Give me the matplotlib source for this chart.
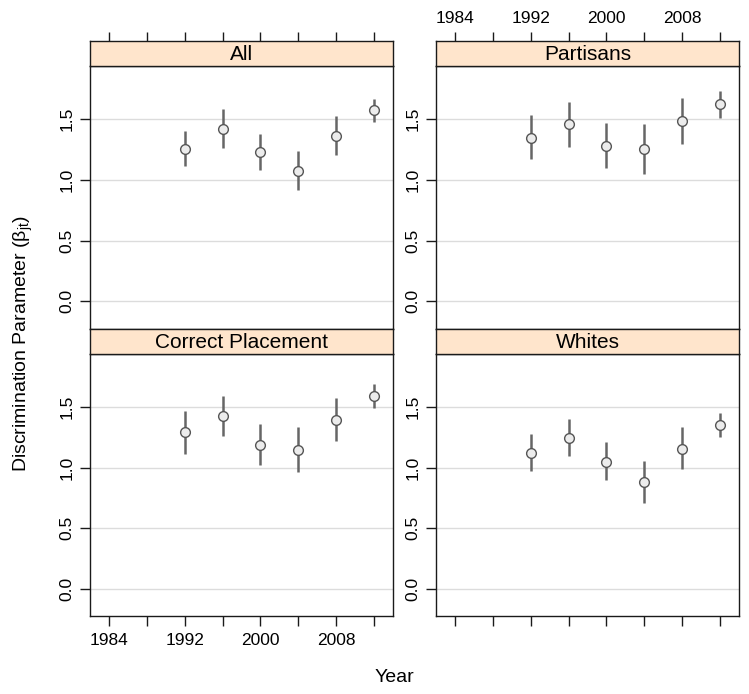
import matplotlib
matplotlib.use("Agg")
import matplotlib.pyplot as plt

plt.rcParams['font.family'] = ['Liberation Sans', 'DejaVu Sans']
plt.rcParams['mathtext.fontset'] = 'custom'
plt.rcParams['mathtext.rm'] = 'Liberation Sans'
plt.rcParams['mathtext.it'] = 'Liberation Sans:italic'

years = [1992, 1996, 2000, 2004, 2008, 2012]
x_ticks = [1984, 1988, 1992, 1996, 2000, 2004, 2008, 2012]
x_ticklabels = ['1984', '', '1992', '', '2000', '', '2008', '']
y_ticks = [0.0, 0.5, 1.0, 1.5]

panels = ['All', 'Partisans', 'Correct Placement', 'Whites']

all_est = [1.258, 1.420, 1.227, 1.073, 1.362, 1.572]
all_lo = [1.112, 1.266, 1.078, 0.917, 1.208, 1.481]
all_hi = [1.400, 1.583, 1.376, 1.238, 1.525, 1.665]

par_est = [1.349, 1.459, 1.279, 1.258, 1.483, 1.624]
par_lo = [1.175, 1.271, 1.098, 1.045, 1.296, 1.511]
par_hi = [1.533, 1.643, 1.472, 1.464, 1.674, 1.731]

cp_est = [1.293, 1.423, 1.182, 1.146, 1.392, 1.591]
cp_lo = [1.113, 1.257, 1.022, 0.959, 1.215, 1.489]
cp_hi = [1.464, 1.588, 1.359, 1.337, 1.577, 1.691]

wh_est = [1.119, 1.243, 1.047, 0.878, 1.157, 1.348]
wh_lo = [0.970, 1.094, 0.898, 0.704, 0.989, 1.249]
wh_hi = [1.273, 1.401, 1.207, 1.050, 1.331, 1.448]

data = {
    'All': (all_est, all_lo, all_hi),
    'Partisans': (par_est, par_lo, par_hi),
    'Correct Placement': (cp_est, cp_lo, cp_hi),
    'Whites': (wh_est, wh_lo, wh_hi),
}

W, H = 749, 694
fig = plt.figure(figsize=(W / 100, H / 100), dpi=100)


def box(x0, y0, x1, y1):
    return [x0 / W, 1 - y1 / H, (x1 - x0) / W, (y1 - y0) / H]


cols = [(90, 393), (436, 739)]
rows = [(41, 66, 329), (329, 354, 616)]
tick_fs = 12.5
strip_fs = 15
lab_fs = 14
edge = '#1a1a1a'

for i, name in enumerate(panels):
    r, c = divmod(i, 2)
    x0, x1 = cols[c]
    st, pt, pb = rows[r]
    ax = fig.add_axes(box(x0, pt, x1, pb))
    sax = fig.add_axes(box(x0, st, x1, pt))
    sax.set_facecolor('#ffe5cc')
    sax.set_xticks([]); sax.set_yticks([])
    for s in sax.spines.values():
        s.set_color(edge); s.set_linewidth(1.0)
    sax.text(0.5, 0.45, name, ha='center', va='center', fontsize=strip_fs,
             transform=sax.transAxes)

    est, lo, hi = data[name]
    for yv in y_ticks:
        ax.axhline(yv, color='#dcdcdc', lw=1.0, zorder=0)
    ax.vlines(years, lo, hi, color='#666666', lw=1.8, zorder=2)
    ax.plot(years, est, 'o', ms=7, mfc='#ececec', mec='#555555', mew=1.0, zorder=3)

    ax.set_xlim(1982, 2014)
    ax.set_ylim(-0.227, 1.938)
    ax.set_yticks(y_ticks)
    ax.set_yticklabels(['0.0', '0.5', '1.0', '1.5'], rotation=90, va='center',
                       fontsize=tick_fs)
    ax.tick_params(axis='y', direction='out', length=7, width=1, color=edge, pad=4)
    ax.set_xticks(x_ticks)
    sax.set_xlim(1982, 2014)
    if r == 0:
        ax.tick_params(axis='x', bottom=False, labelbottom=False, top=False,
                       labeltop=False)
        sax.set_xticks(x_ticks)
        if c == 1:
            sax.set_xticklabels(x_ticklabels, fontsize=tick_fs)
        sax.tick_params(axis='x', bottom=False, labelbottom=False, top=True,
                        labeltop=(c == 1), direction='out', length=6.5, width=1,
                        color=edge, pad=4)
    else:
        ax.tick_params(axis='x', bottom=True, top=False, direction='out',
                       length=7.5, width=1, color=edge, pad=5)
        if c == 0:
            ax.set_xticklabels(x_ticklabels, fontsize=tick_fs)
        else:
            ax.set_xticklabels([])
    for s in ax.spines.values():
        s.set_color(edge); s.set_linewidth(1.0)

fig.text(23 / W, 1 - 344 / H, r'Discrimination Parameter ($\mathrm{β}_{\mathrm{jt}}$)',
         rotation=90, ha='center', va='center', fontsize=lab_fs)
fig.text(394 / W, 1 - 678 / H, 'Year', ha='center', va='center', fontsize=lab_fs)

fig.savefig('out.png', dpi=100)
